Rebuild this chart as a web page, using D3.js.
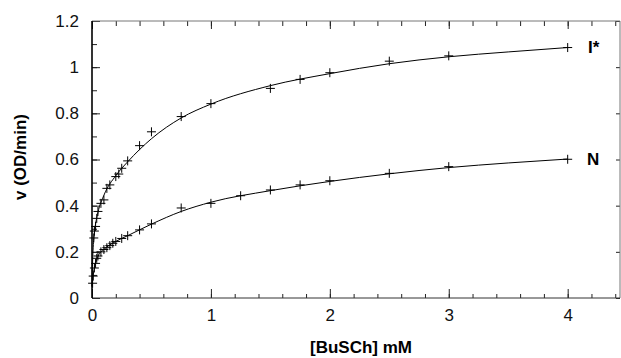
<!DOCTYPE html>
<html>
<head>
<meta charset="utf-8">
<script src="https://cdn.jsdelivr.net/npm/d3@7"></script>
<style>
  body { margin: 0; background: #fff; }
  svg { display: block; font-family: "Liberation Sans", Arial, sans-serif; }
</style>
</head>
<body>
<div id="chart"></div>
<script>
// measured points, I* form
const iStarX = [0.015, 0.02, 0.03, 0.04, 0.05, 0.075, 0.1, 0.125, 0.15, 0.2, 0.225, 0.25, 0.3, 0.4, 0.5, 0.75, 1, 1.5, 1.75, 2, 2.5, 3, 4];
const iStarY = [0.26, 0.29, 0.31, 0.345, 0.375, 0.41, 0.425, 0.475, 0.49, 0.526, 0.537, 0.562, 0.594, 0.66, 0.72, 0.786, 0.842, 0.908, 0.947, 0.976, 1.026, 1.049, 1.085];

// measured points, N form
const nX = [0.005, 0.01, 0.02, 0.03, 0.04, 0.05, 0.075, 0.1, 0.125, 0.15, 0.175, 0.2, 0.25, 0.3, 0.4, 0.5, 0.75, 1, 1.25, 1.5, 1.75, 2, 2.5, 3, 4];
const nY = [0.064, 0.095, 0.13, 0.15, 0.172, 0.182, 0.2, 0.21, 0.218, 0.227, 0.237, 0.245, 0.258, 0.27, 0.295, 0.321, 0.39, 0.41, 0.443, 0.468, 0.49, 0.508, 0.54, 0.569, 0.601];

// fitted curves
const fitX = [0, 0.005, 0.01, 0.02, 0.05, 0.1, 0.2, 0.3, 0.5, 0.75, 1, 1.5, 2, 2.5, 3, 3.5, 4];
const fitI = [0.05, 0.16, 0.22, 0.28, 0.37, 0.445, 0.53, 0.59, 0.69, 0.78, 0.84, 0.92, 0.972, 1.015, 1.045, 1.066, 1.085];
const fitN = [0.05, 0.075, 0.1, 0.13, 0.18, 0.21, 0.245, 0.27, 0.32, 0.375, 0.415, 0.465, 0.505, 0.538, 0.565, 0.585, 0.602];

const seriesLabels = ["I*", "N"];
const yTicks = [0, 0.2, 0.4, 0.6, 0.8, 1, 1.2];
const xTicks = [0, 1, 2, 3, 4];

const W = 621, H = 358;
const margin = {top: 21, right: 1, bottom: 60, left: 92};
const width = W - margin.left - margin.right;
const height = H - margin.top - margin.bottom;

const svg = d3.select("#chart").append("svg")
  .attr("width", W)
  .attr("height", H);

const g = svg.append("g")
  .attr("transform", `translate(${margin.left},${margin.top})`);

const x = d3.scaleLinear().domain([0, 4.44]).range([0, width]);
const y = d3.scaleLinear().domain([0, 1.2]).range([height, 0]);

const minorX = d3.range(0, 4.41, 0.2);
const minorY = d3.range(0, 1.21, 0.1);

// minor ticks (inward)
g.append("g").attr("transform", `translate(0,${height})`)
  .call(d3.axisBottom(x).tickValues(minorX).tickSize(-4).tickFormat(""));
g.append("g")
  .call(d3.axisTop(x).tickValues(minorX).tickSize(-5).tickFormat(""));
g.append("g")
  .call(d3.axisLeft(y).tickValues(minorY).tickSize(-5).tickFormat(""));
g.append("g").attr("transform", `translate(${width},0)`)
  .call(d3.axisRight(y).tickValues(yTicks).tickSize(-4).tickFormat(""));

// major ticks with labels
g.append("g").attr("transform", `translate(0,${height})`)
  .call(d3.axisBottom(x).tickValues(xTicks).tickSize(-9).tickPadding(11).tickFormat(d3.format("")));
g.append("g")
  .call(d3.axisTop(x).tickValues(xTicks).tickSize(-8).tickFormat(""));
g.append("g")
  .call(d3.axisLeft(y).tickValues(yTicks).tickSize(-8).tickPadding(13).tickFormat(d3.format("")));

g.selectAll(".domain").remove();
g.selectAll(".tick line").attr("stroke", "#222");
g.selectAll(".tick text").attr("font-size", 17).attr("fill", "#111").attr("font-family", "Liberation Sans, Arial, sans-serif");

// frame
g.append("line").attr("x1", 0).attr("x2", width).attr("y1", 0).attr("y2", 0).attr("stroke", "#777");
g.append("line").attr("x1", width).attr("x2", width).attr("y1", 0).attr("y2", height).attr("stroke", "#777");
g.append("line").attr("x1", 0).attr("x2", width).attr("y1", height).attr("y2", height).attr("stroke", "#333");
g.append("line").attr("x1", 0).attr("x2", 0).attr("y1", 0).attr("y2", height).attr("stroke", "#000").attr("stroke-width", 1.6);

// fitted lines
const line = d3.line().curve(d3.curveMonotoneX);
[fitI, fitN].forEach(vals => {
  g.append("path")
    .attr("d", line(fitX.map((v, i) => [x(v), y(vals[i])])))
    .attr("fill", "none")
    .attr("stroke", "#000")
    .attr("stroke-width", 1);
});

// cross markers
const cross = "M-4.5,0H4.5M0,-4.5V4.5";
[[iStarX, iStarY], [nX, nY]].forEach(([xs, ys]) => {
  g.append("g").selectAll("path")
    .data(xs.map((v, i) => [v, ys[i]]))
    .enter().append("path")
    .attr("transform", d => `translate(${x(d[0])},${y(d[1])})`)
    .attr("d", cross)
    .attr("stroke", "#000")
    .attr("stroke-width", 1);
});

// series labels
g.append("text")
  .attr("x", 496).attr("y", y(1.085) + 5)
  .attr("font-size", 17).attr("font-weight", "bold")
  .text(seriesLabels[0]);
g.append("text")
  .attr("x", 495).attr("y", y(0.601) + 6)
  .attr("font-size", 17).attr("font-weight", "bold")
  .text(seriesLabels[1]);

// axis titles
svg.append("text")
  .attr("x", 361).attr("y", 353)
  .attr("text-anchor", "middle")
  .attr("font-size", 17).attr("font-weight", "bold")
  .text("[BuSCh] mM");
svg.append("text")
  .attr("transform", "translate(26,157) rotate(-90)")
  .attr("text-anchor", "middle")
  .attr("font-size", 17).attr("font-weight", "bold")
  .text("v (OD/min)");
</script>
</body>
</html>
